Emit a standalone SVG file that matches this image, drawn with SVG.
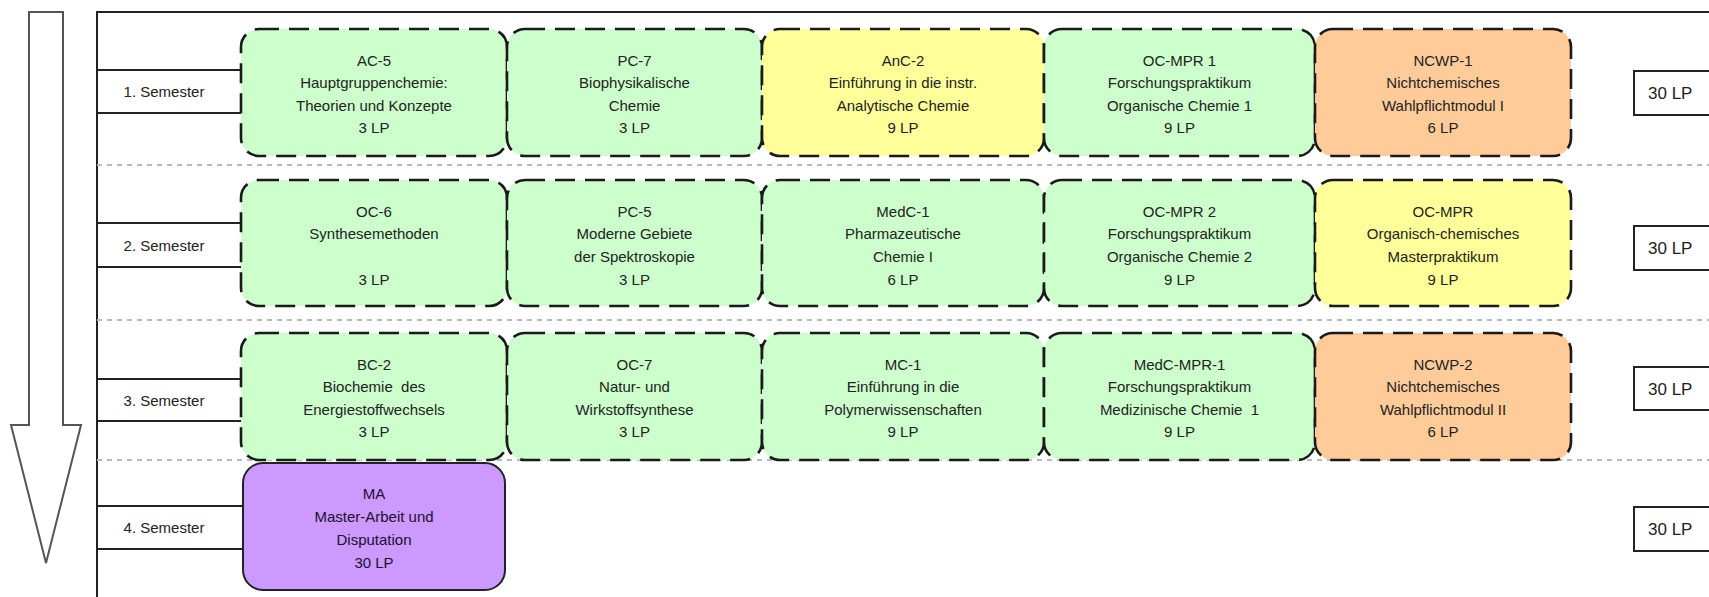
<svg xmlns="http://www.w3.org/2000/svg" width="1709" height="597" viewBox="0 0 1709 597">
  <style>
    .frame { fill: none; stroke: #222; stroke-width: 2; }
    .sep { fill: none; stroke: #b8b8b8; stroke-width: 2; stroke-dasharray: 5 5; }
    .lbl { fill: #fff; stroke: #222; stroke-width: 2; }
    .mod { stroke: #1a1a1a; stroke-width: 2.6; stroke-dasharray: 20 10; }
    .green { fill: #ccffcc; }
    .yellow { fill: #ffff99; }
    .orange { fill: #ffcc99; }
    .purple { fill: #cc99ff; stroke: #222; stroke-width: 2; }
    text { font-family: "Liberation Sans", Arial, sans-serif; fill: #222; }
    .t { font-size: 15px; text-anchor: middle; }
    .lt { font-size: 15px; text-anchor: middle; }
    .lp { font-size: 17px; }
  </style>

  <!-- time arrow -->
  <g id="time-arrow">
    <polygon points="29,12 63,12 63,425 81,425 46,563 11,425 29,425" fill="#fff" stroke="#555" stroke-width="2"/>
  </g>

  <!-- outer frame -->
  <path class="frame" d="M97,597 V12 H1709"/>

  <!-- row separators -->
  <g id="separators">
    <line class="sep" x1="97" y1="165" x2="1709" y2="165"/>
    <line class="sep" x1="97" y1="320" x2="1709" y2="320"/>
    <line class="sep" x1="97" y1="460" x2="1709" y2="460"/>
  </g>

  <!-- semester labels -->
  <g id="sem1"><rect class="lbl" x="97" y="70" width="150" height="43"/><text class="lt" x="164" y="97">1. Semester</text></g>
  <g id="sem2"><rect class="lbl" x="97" y="223" width="150" height="44"/><text class="lt" x="164" y="251">2. Semester</text></g>
  <g id="sem3"><rect class="lbl" x="97" y="379" width="150" height="42"/><text class="lt" x="164" y="406">3. Semester</text></g>
  <g id="sem4"><rect class="lbl" x="97" y="506" width="150" height="43"/><text class="lt" x="164" y="533">4. Semester</text></g>

  <!-- 1. Semester modules -->
  <g id="ac5">
    <rect class="mod green" x="241" y="29" width="266" height="127" rx="18"/>
    <text class="t"><tspan x="374" y="66">AC-5</tspan><tspan x="374" y="88">Hauptgruppenchemie:</tspan><tspan x="374" y="111">Theorien und Konzepte</tspan><tspan x="374" y="133">3 LP</tspan></text>
  </g>
  <g id="pc7">
    <rect class="mod green" x="507" y="29" width="255" height="127" rx="18"/>
    <text class="t"><tspan x="634.5" y="66">PC-7</tspan><tspan x="634.5" y="88">Biophysikalische</tspan><tspan x="634.5" y="111">Chemie</tspan><tspan x="634.5" y="133">3 LP</tspan></text>
  </g>
  <g id="anc2">
    <rect class="mod yellow" x="762" y="29" width="282" height="127" rx="18"/>
    <text class="t"><tspan x="903" y="66">AnC-2</tspan><tspan x="903" y="88">Einführung in die instr.</tspan><tspan x="903" y="111">Analytische Chemie</tspan><tspan x="903" y="133">9 LP</tspan></text>
  </g>
  <g id="ocmpr1">
    <rect class="mod green" x="1044" y="29" width="271" height="127" rx="18"/>
    <text class="t"><tspan x="1179.5" y="66">OC-MPR 1</tspan><tspan x="1179.5" y="88">Forschungspraktikum</tspan><tspan x="1179.5" y="111">Organische Chemie 1</tspan><tspan x="1179.5" y="133">9 LP</tspan></text>
  </g>
  <g id="ncwp1">
    <rect class="mod orange" x="1315" y="29" width="256" height="127" rx="18"/>
    <text class="t"><tspan x="1443" y="66">NCWP-1</tspan><tspan x="1443" y="88">Nichtchemisches</tspan><tspan x="1443" y="111">Wahlpflichtmodul I</tspan><tspan x="1443" y="133">6 LP</tspan></text>
  </g>

  <!-- 2. Semester modules -->
  <g id="oc6">
    <rect class="mod green" x="241" y="180" width="266" height="126" rx="18"/>
    <text class="t"><tspan x="374" y="217">OC-6</tspan><tspan x="374" y="239">Synthesemethoden</tspan><tspan x="374" y="285">3 LP</tspan></text>
  </g>
  <g id="pc5">
    <rect class="mod green" x="507" y="180" width="255" height="126" rx="18"/>
    <text class="t"><tspan x="634.5" y="217">PC-5</tspan><tspan x="634.5" y="239">Moderne Gebiete</tspan><tspan x="634.5" y="262">der Spektroskopie</tspan><tspan x="634.5" y="285">3 LP</tspan></text>
  </g>
  <g id="medc1">
    <rect class="mod green" x="762" y="180" width="282" height="126" rx="18"/>
    <text class="t"><tspan x="903" y="217">MedC-1</tspan><tspan x="903" y="239">Pharmazeutische</tspan><tspan x="903" y="262">Chemie I</tspan><tspan x="903" y="285">6 LP</tspan></text>
  </g>
  <g id="ocmpr2">
    <rect class="mod green" x="1044" y="180" width="271" height="126" rx="18"/>
    <text class="t"><tspan x="1179.5" y="217">OC-MPR 2</tspan><tspan x="1179.5" y="239">Forschungspraktikum</tspan><tspan x="1179.5" y="262">Organische Chemie 2</tspan><tspan x="1179.5" y="285">9 LP</tspan></text>
  </g>
  <g id="ocmpr">
    <rect class="mod yellow" x="1315" y="180" width="256" height="126" rx="18"/>
    <text class="t"><tspan x="1443" y="217">OC-MPR</tspan><tspan x="1443" y="239">Organisch-chemisches</tspan><tspan x="1443" y="262">Masterpraktikum</tspan><tspan x="1443" y="285">9 LP</tspan></text>
  </g>

  <!-- 3. Semester modules -->
  <g id="bc2">
    <rect class="mod green" x="241" y="333" width="266" height="127" rx="18"/>
    <text class="t"><tspan x="374" y="370">BC-2</tspan><tspan x="374" y="392" xml:space="preserve">Biochemie  des</tspan><tspan x="374" y="415">Energiestoffwechsels</tspan><tspan x="374" y="437">3 LP</tspan></text>
  </g>
  <g id="oc7">
    <rect class="mod green" x="507" y="333" width="255" height="127" rx="18"/>
    <text class="t"><tspan x="634.5" y="370">OC-7</tspan><tspan x="634.5" y="392">Natur- und</tspan><tspan x="634.5" y="415">Wirkstoffsynthese</tspan><tspan x="634.5" y="437">3 LP</tspan></text>
  </g>
  <g id="mc1">
    <rect class="mod green" x="762" y="333" width="282" height="127" rx="18"/>
    <text class="t"><tspan x="903" y="370">MC-1</tspan><tspan x="903" y="392">Einführung in die</tspan><tspan x="903" y="415">Polymerwissenschaften</tspan><tspan x="903" y="437">9 LP</tspan></text>
  </g>
  <g id="medcmpr1">
    <rect class="mod green" x="1044" y="333" width="271" height="127" rx="18"/>
    <text class="t"><tspan x="1179.5" y="370">MedC-MPR-1</tspan><tspan x="1179.5" y="392">Forschungspraktikum</tspan><tspan x="1179.5" y="415" xml:space="preserve">Medizinische Chemie  1</tspan><tspan x="1179.5" y="437">9 LP</tspan></text>
  </g>
  <g id="ncwp2">
    <rect class="mod orange" x="1315" y="333" width="256" height="127" rx="18"/>
    <text class="t"><tspan x="1443" y="370">NCWP-2</tspan><tspan x="1443" y="392">Nichtchemisches</tspan><tspan x="1443" y="415">Wahlpflichtmodul II</tspan><tspan x="1443" y="437">6 LP</tspan></text>
  </g>

  <!-- 4. Semester: thesis -->
  <g id="ma">
    <rect class="purple" x="243" y="463" width="262" height="127" rx="20"/>
    <text class="t" style="fill:#201030"><tspan x="374" y="499">MA</tspan><tspan x="374" y="522">Master-Arbeit und</tspan><tspan x="374" y="545">Disputation</tspan><tspan x="374" y="568">30 LP</tspan></text>
  </g>

  <!-- credit totals per semester -->
  <g id="lp1"><rect class="lbl" x="1634" y="71" width="100" height="44"/><text class="lp" x="1648" y="99">30 LP</text></g>
  <g id="lp2"><rect class="lbl" x="1634" y="226" width="100" height="44"/><text class="lp" x="1648" y="254">30 LP</text></g>
  <g id="lp3"><rect class="lbl" x="1634" y="367" width="100" height="43"/><text class="lp" x="1648" y="395">30 LP</text></g>
  <g id="lp4"><rect class="lbl" x="1634" y="507" width="100" height="44"/><text class="lp" x="1648" y="535">30 LP</text></g>
</svg>
